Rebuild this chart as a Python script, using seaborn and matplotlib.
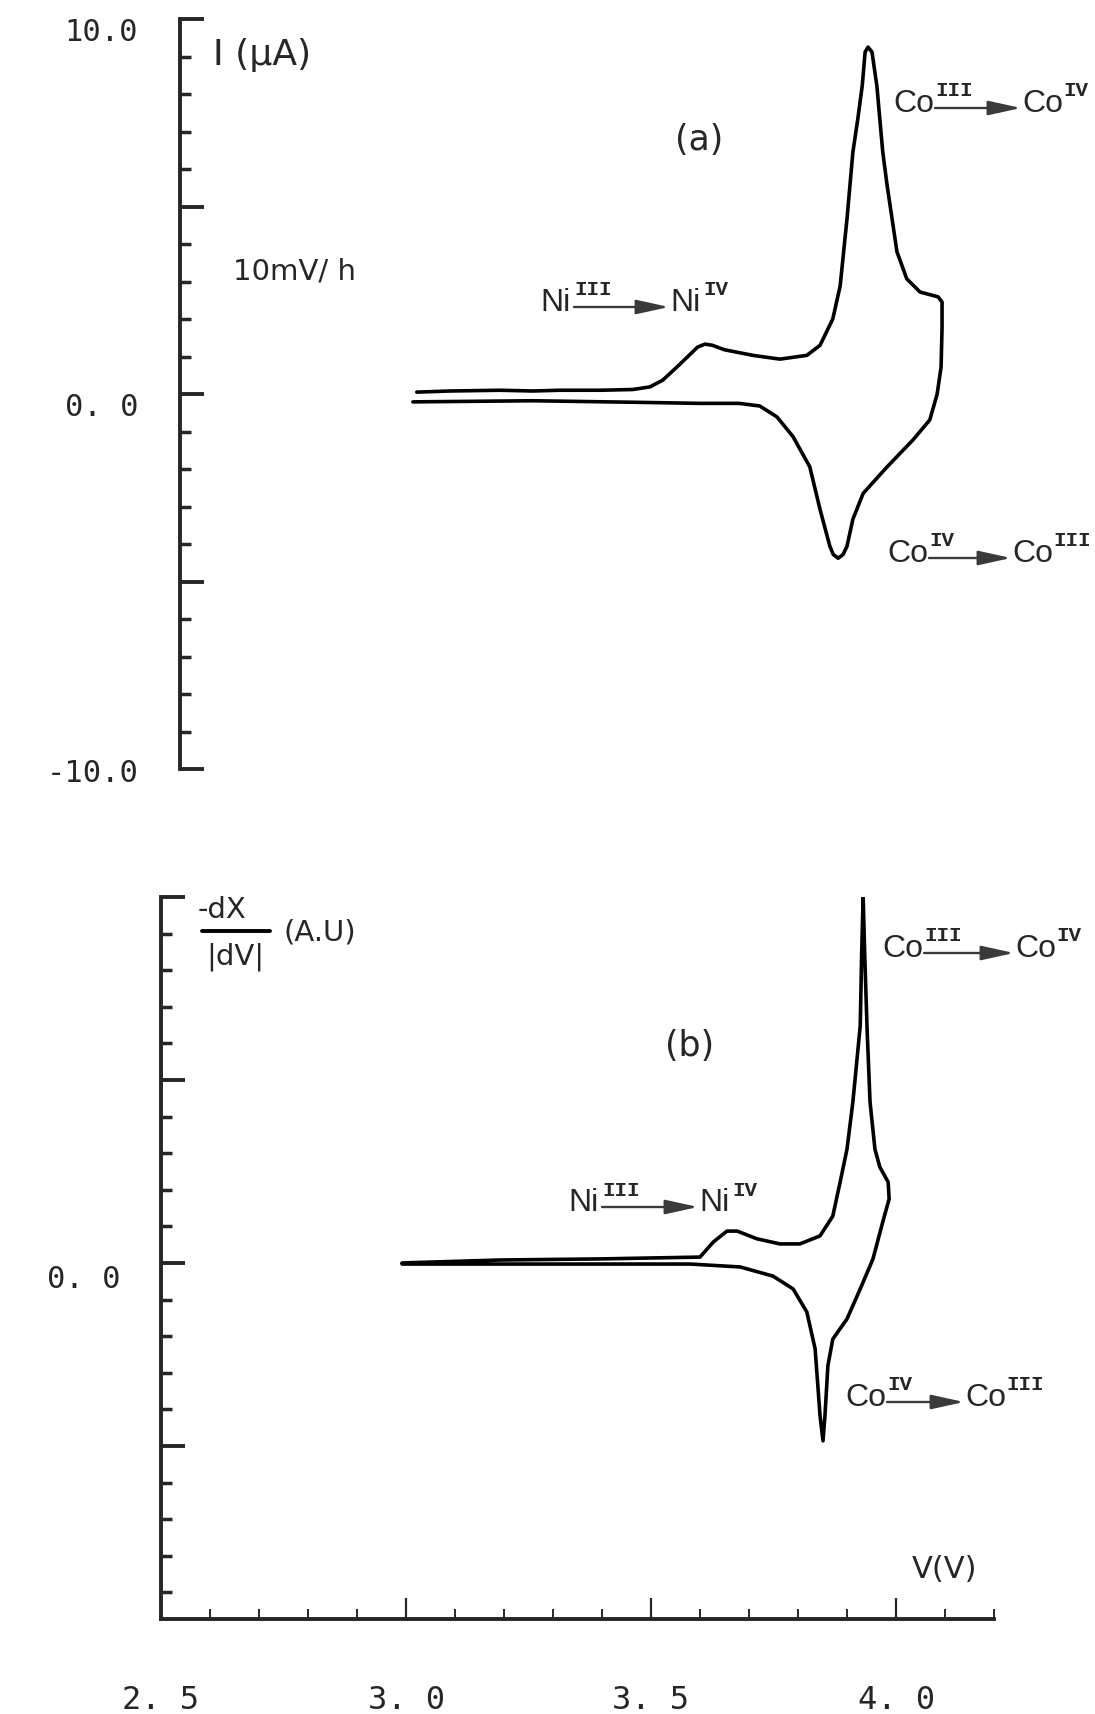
import pandas as pd
import seaborn as sns
import matplotlib.pyplot as plt
from matplotlib.patches import FancyArrowPatch
from matplotlib.lines import Line2D
from matplotlib.transforms import ScaledTranslation

# (a) corriente I (uA) frente a V, barrido lento 10 mV/h (ciclo cerrado)
v_a = [3.022, 3.09, 3.192, 3.259, 3.314, 3.396, 3.463, 3.498, 3.524, 3.553,
       3.58, 3.595, 3.61, 3.625, 3.65, 3.708, 3.763, 3.818, 3.845, 3.871,
       3.886, 3.90, 3.912, 3.922, 3.931, 3.937, 3.943, 3.951, 3.961, 3.967,
       3.973, 3.982, 3.992, 4.002, 4.022, 4.049, 4.086, 4.094, 4.094, 4.092,
       4.084, 4.069, 4.035, 3.982, 3.933, 3.912, 3.90, 3.892, 3.882, 3.872,
       3.865, 3.845, 3.824, 3.79, 3.757, 3.722, 3.68, 3.60, 3.463, 3.259, 3.014]
i_a = [0.05, 0.08, 0.1, 0.08, 0.1, 0.1, 0.12, 0.19, 0.37, 0.72,
       1.06, 1.25, 1.33, 1.3, 1.18, 1.03, 0.93, 1.03, 1.3, 2.0,
       2.88, 4.67, 6.45, 7.33, 8.21, 9.12, 9.25, 9.12, 8.21, 7.33,
       6.45, 5.55, 4.67, 3.79, 3.07, 2.72, 2.59, 2.45, 1.78, 0.72,
       0.0, -0.69, -1.22, -1.94, -2.65, -3.34, -4.06, -4.28, -4.38, -4.28,
       -4.06, -3.08, -1.94, -1.14, -0.61, -0.32, -0.25, -0.25, -0.22, -0.18, -0.21]

# (b) -dX/|dV| (unidades arbitrarias)
v_b = [2.992, 3.192, 3.396, 3.60, 3.627, 3.655, 3.676, 3.716, 3.763, 3.804,
       3.845, 3.871, 3.886, 3.90, 3.912, 3.927, 3.930, 3.933, 3.936, 3.941,
       3.947, 3.957, 3.967, 3.984, 3.986, 3.973, 3.953, 3.927, 3.90, 3.871,
       3.861, 3.855, 3.851, 3.845, 3.835, 3.818, 3.79, 3.749, 3.682, 3.58,
       3.396, 2.992]
d_b = [0.0, 0.08, 0.11, 0.16, 0.57, 0.87, 0.87, 0.66, 0.52, 0.52,
       0.74, 1.28, 2.21, 3.11, 4.4, 6.48, 8.5, 10.0, 8.5, 6.39,
       4.4, 3.11, 2.62, 2.21, 1.75, 1.12, 0.11, -0.71, -1.53, -2.08,
       -2.81, -4.18, -4.86, -4.18, -2.35, -1.34, -0.71, -0.36, -0.11, -0.03,
       -0.03, -0.03]

x_ticks = [2.5, 3.0, 3.5, 4.0]
x_tick_labels = ['2. 5', '3. 0', '3. 5', '4. 0']
ya_ticks = [-10, -5, 0, 5, 10]
ya_tick_labels = ['-10.0', '', '0. 0', '', '10.0']
yb_ticks = [-5, 0, 5, 10]
yb_tick_labels = ['', '0. 0', '', '']

sns.set_style('white')
plt.rcParams['font.family'] = ['DejaVu Sans']

W, H = 1095, 1715
fig = plt.figure(figsize=(W / 100, H / 100), dpi=100)


def box(l, t, r, b):
    return [l / W, 1 - b / H, (r - l) / W, (b - t) / H]


def fx(px):
    return px / W


def fy(py):
    return 1 - py / H


def bajar(labels, pts):
    # etiquetas del original algo por debajo de su marca
    for lbl in labels:
        if lbl.get_text() in ('10.0', '0. 0'):
            lbl.set_transform(lbl.get_transform() +
                              ScaledTranslation(0, -pts / 72, fig.dpi_scale_trans))


df_a = pd.DataFrame({'V': v_a, 'I': i_a})
df_b = pd.DataFrame({'V': v_b, 'dX': d_b})

# panel (a)
ax_a = fig.add_axes(box(180, 20, 1095, 770))
ax_a.patch.set_alpha(0)
sns.lineplot(data=df_a, x='V', y='I', sort=False, estimator=None,
             color='black', lw=2.6, ax=ax_a)
ax_a.lines[0].set_solid_joinstyle('round')
ax_a.set_xlim(2.5 + (180 - 161) / 490, 2.5 + (1095 - 161) / 490)
ax_a.set_ylim(-10, 10)
for s in ['top', 'right', 'bottom']:
    ax_a.spines[s].set_visible(False)
ax_a.spines['left'].set_linewidth(2.8)
ax_a.set_yticks(ya_ticks)
ax_a.set_yticklabels(ya_tick_labels, family='DejaVu Sans Mono', fontsize=22)
ax_a.set_yticks(range(-10, 11), minor=True)
ax_a.tick_params(axis='y', which='both', left=True, direction='in')
ax_a.tick_params(axis='y', which='major', length=17, width=2.8, pad=30)
ax_a.tick_params(axis='y', which='minor', length=8, width=2.5)
ax_a.tick_params(axis='x', which='both', bottom=False, labelbottom=False)
ax_a.set_xlabel('')
ax_a.set_ylabel('')
bajar(ax_a.get_yticklabels(), 7)

# panel (b)
ax_b = fig.add_axes(box(161, 898, 994, 1620))
ax_b.patch.set_alpha(0)
sns.lineplot(data=df_b, x='V', y='dX', sort=False, estimator=None,
             color='black', lw=2.6, ax=ax_b)
ax_b.lines[0].set_solid_joinstyle('round')
ax_b.set_xlim(2.5, 4.2)
ax_b.set_ylim(-9.73, 10)
for s in ['top', 'right']:
    ax_b.spines[s].set_visible(False)
ax_b.spines['left'].set_linewidth(2.8)
ax_b.spines['bottom'].set_linewidth(2.8)
ax_b.set_yticks(yb_ticks)
ax_b.set_yticklabels(yb_tick_labels, family='DejaVu Sans Mono', fontsize=22)
ax_b.set_yticks(range(-9, 11), minor=True)
ax_b.set_xticks(x_ticks)
ax_b.set_xticklabels(x_tick_labels, family='DejaVu Sans Mono', fontsize=23)
ax_b.set_xticks([2.5 + 0.1 * k for k in range(18)], minor=True)
ax_b.tick_params(axis='both', which='both', left=True, bottom=True, direction='in')
ax_b.tick_params(axis='y', which='major', length=17, width=2.8, pad=29)
ax_b.tick_params(axis='y', which='minor', length=8, width=2.5)
ax_b.tick_params(axis='x', which='major', length=15, width=1.6, pad=47)
ax_b.tick_params(axis='x', which='minor', length=7, width=1.4)
ax_b.set_xlabel('')
ax_b.set_ylabel('')
bajar(ax_b.get_yticklabels(), 9)

# textos de ejes y paneles
fig.text(fx(213), fy(55), 'I (μA)', fontsize=26, va='center', ha='left')
fig.text(fx(233), fy(272), '10mV/ h', fontsize=21, va='center', ha='left')
fig.text(fx(699), fy(140), '(a)', fontsize=25, va='center', ha='center')
fig.text(fx(690), fy(1046), '(b)', fontsize=25, va='center', ha='center')
fig.text(fx(912), fy(1570), 'V(V)', fontsize=22, va='center', ha='left')
fig.text(fx(222), fy(910), '-dX', fontsize=21, va='center', ha='center')
fig.text(fx(235), fy(957), '|dV|', fontsize=21, va='center', ha='center')
fig.add_artist(Line2D([fx(202), fx(270)], [fy(932), fy(932)], lw=2.8,
                      color='black', transform=fig.transFigure))
fig.text(fx(283), fy(932), '(A.U)', fontsize=21, va='center', ha='left')

ANCHO = {'Co': 41, 'Ni': 33}


def reaction(x, y, base, s1, s2, total):
    # total: distancia del inicio del primer símbolo al inicio del segundo
    w = ANCHO[base]
    fig.text(fx(x), fy(y), base, fontsize=23, family='Liberation Sans',
             va='center', ha='left')
    fig.text(fx(x + w + 1), fy(y - 13), s1, fontsize=15, family='Liberation Mono',
             weight='bold', va='center', ha='left')
    x2 = x + total
    fig.add_artist(FancyArrowPatch((fx(x + w + 1), fy(y + 5)), (fx(x2), fy(y + 5)),
                                   transform=fig.transFigure,
                                   arrowstyle='-|>,head_length=1.0,head_width=0.22',
                                   mutation_scale=20, lw=1.7, color='#3a3a3a',
                                   shrinkA=0, shrinkB=0))
    fig.text(fx(x2 + 1), fy(y), base, fontsize=23, family='Liberation Sans',
             va='center', ha='left')
    fig.text(fx(x2 + w + 1), fy(y - 13), s2, fontsize=15, family='Liberation Mono',
             weight='bold', va='center', ha='left')


reaction(540, 303, 'Ni', 'III', 'IV', 129)
reaction(893, 104, 'Co', 'III', 'IV', 128)
reaction(887, 554, 'Co', 'IV', 'III', 124)
reaction(568, 1203, 'Ni', 'III', 'IV', 130)
reaction(882, 949, 'Co', 'III', 'IV', 132)
reaction(845, 1398, 'Co', 'IV', 'III', 119)

fig.savefig('out.png', dpi=100)
